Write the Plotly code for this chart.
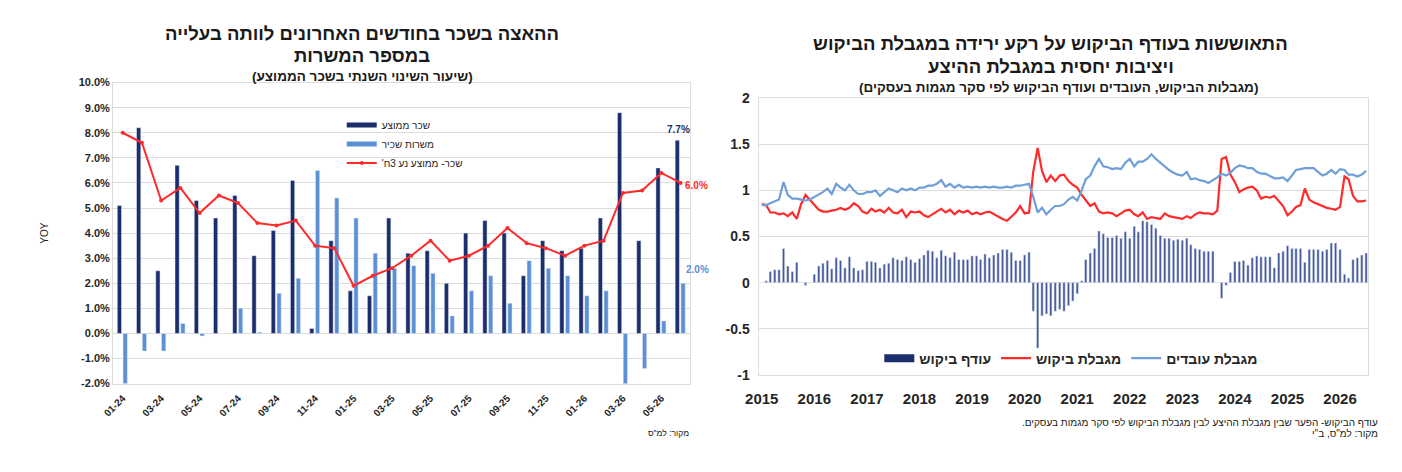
import pandas as pd
import plotly.graph_objects as go

# ---- left panel: wages vs. salaried jobs, YoY % ----
months = ['01-24', '02-24', '03-24', '04-24', '05-24', '06-24', '07-24', '08-24', '09-24', '10-24',
          '11-24', '12-24', '01-25', '02-25', '03-25', '04-25', '05-25', '06-25', '07-25', '08-25',
          '09-25', '10-25', '11-25', '12-25', '01-26', '02-26', '03-26', '04-26', '05-26', '06-26']
avg_wage = [5.1, 8.2, 2.5, 6.7, 5.3, 4.6, 5.5, 3.1, 4.1, 6.1, 0.2, 3.7, 1.7, 1.5, 4.6,
            3.2, 3.3, 2.0, 4.0, 4.5, 4.0, 2.3, 3.7, 3.3, 3.4, 4.6, 8.8, 3.7, 6.6, 7.7]
jobs = [-2.0, -0.7, -0.7, 0.4, -0.1, 0.0, 1.0, 0.05, 1.6, 2.2, 6.5, 5.4, 4.6, 3.2, 2.6,
        2.7, 2.4, 0.7, 1.7, 2.3, 1.2, 2.9, 2.6, 2.3, 1.5, 1.7, -2.0, -1.4, 0.5, 2.0]
wage_ma3 = [8.0, 7.6, 5.3, 5.8, 4.8, 5.5, 5.2, 4.4, 4.3, 4.5, 3.5, 3.4, 1.9, 2.3, 2.6,
            3.1, 3.7, 2.9, 3.1, 3.5, 4.2, 3.6, 3.4, 3.1, 3.5, 3.7, 5.6, 5.7, 6.4, 6.0]
left_ticks = [-2, -1, 0, 1, 2, 3, 4, 5, 6, 7, 8, 9, 10]
left_ticktext = ['-2.0%', '-1.0%', '0.0%', '1.0%', '2.0%', '3.0%', '4.0%', '5.0%',
                 '6.0%', '7.0%', '8.0%', '9.0%', '10.0%']

# ---- right panel: business tendency survey, monthly from 01-2015 ----
dates = pd.date_range('2015-01-01', periods=139, freq='MS')
labor_limit = [0.84, 0.84, 0.86, 0.88, 0.90, 1.09, 0.95, 0.91, 0.91, 0.90,
               0.89, 0.90, 0.93, 0.96, 0.98, 1.02, 0.96, 1.07, 1.03, 1.00,
               1.06, 1.00, 0.96, 0.96, 0.98, 0.98, 1.00, 0.94, 0.98, 1.02,
               1.00, 0.98, 1.02, 1.00, 1.02, 1.00, 1.03, 1.03, 1.05, 1.05,
               1.07, 1.11, 1.04, 1.07, 1.03, 1.06, 1.03, 1.04, 1.03, 1.04,
               1.03, 1.04, 1.03, 1.04, 1.03, 1.03, 1.04, 1.03, 1.05, 1.05,
               1.06, 1.07, 0.93, 0.76, 0.81, 0.74, 0.79, 0.83, 0.83, 0.85,
               0.90, 0.93, 0.89, 1.00, 1.12, 1.16, 1.26, 1.34, 1.26, 1.25,
               1.23, 1.24, 1.23, 1.30, 1.34, 1.26, 1.31, 1.31, 1.34, 1.39,
               1.34, 1.30, 1.25, 1.22, 1.19, 1.17, 1.16, 1.20, 1.12, 1.13,
               1.11, 1.10, 1.08, 1.11, 1.14, 1.18, 1.16, 1.19, 1.24, 1.27,
               1.26, 1.24, 1.24, 1.20, 1.18, 1.18, 1.15, 1.13, 1.13, 1.14,
               1.10, 1.16, 1.22, 1.23, 1.24, 1.24, 1.24, 1.20, 1.16, 1.18,
               1.22, 1.18, 1.23, 1.22, 1.17, 1.17, 1.15, 1.17, 1.21]
demand_limit = [0.85, 0.84, 0.76, 0.76, 0.74, 0.75, 0.72, 0.76, 0.69, 0.85,
                0.95, 0.90, 0.84, 0.79, 0.77, 0.77, 0.78, 0.79, 0.81, 0.79,
                0.81, 0.86, 0.83, 0.77, 0.75, 0.80, 0.77, 0.79, 0.76, 0.81,
                0.76, 0.75, 0.79, 0.71, 0.77, 0.76, 0.77, 0.73, 0.71, 0.74,
                0.77, 0.80, 0.76, 0.79, 0.74, 0.78, 0.76, 0.78, 0.74, 0.76,
                0.74, 0.76, 0.77, 0.74, 0.72, 0.69, 0.67, 0.71, 0.76, 0.83,
                0.75, 0.76, 1.20, 1.46, 1.21, 1.09, 1.16, 1.10, 1.16, 1.17,
                1.10, 1.06, 1.03, 0.95, 0.89, 0.83, 0.86, 0.77, 0.75, 0.76,
                0.75, 0.72, 0.75, 0.78, 0.79, 0.74, 0.72, 0.76, 0.69, 0.71,
                0.70, 0.69, 0.75, 0.72, 0.71, 0.70, 0.69, 0.72, 0.70, 0.74,
                0.76, 0.75, 0.75, 0.74, 0.78, 1.34, 1.36, 1.17, 1.09, 0.98,
                1.01, 1.03, 1.04, 1.00, 0.91, 0.93, 0.92, 0.94, 0.88, 0.83,
                0.73, 0.77, 0.82, 0.84, 1.02, 0.90, 0.87, 0.85, 0.83, 0.81,
                0.80, 0.79, 0.82, 1.15, 1.12, 0.94, 0.88, 0.88, 0.89]
excess_demand = [0.00, 0.02, 0.12, 0.14, 0.14, 0.37, 0.18, 0.12, 0.22, 0.00,
                 -0.03, 0.00, 0.09, 0.18, 0.21, 0.24, 0.15, 0.27, 0.24, 0.16,
                 0.28, 0.16, 0.13, 0.14, 0.23, 0.23, 0.22, 0.16, 0.20, 0.21,
                 0.27, 0.25, 0.24, 0.28, 0.25, 0.22, 0.26, 0.30, 0.35, 0.34,
                 0.27, 0.35, 0.29, 0.27, 0.33, 0.25, 0.25, 0.25, 0.29, 0.29,
                 0.25, 0.31, 0.27, 0.30, 0.32, 0.36, 0.36, 0.33, 0.24, 0.24,
                 0.30, 0.33, -0.31, -0.71, -0.36, -0.34, -0.36, -0.31, -0.29, -0.31,
                 -0.25, -0.20, -0.12, 0.02, 0.25, 0.32, 0.37, 0.56, 0.53, 0.49,
                 0.49, 0.51, 0.48, 0.55, 0.48, 0.61, 0.55, 0.67, 0.66, 0.63,
                 0.59, 0.51, 0.48, 0.48, 0.46, 0.47, 0.46, 0.48, 0.41, 0.37,
                 0.36, 0.34, 0.34, 0.34, 0.00, -0.17, -0.03, 0.11, 0.23, 0.23,
                 0.24, 0.19, 0.27, 0.29, 0.28, 0.28, 0.28, 0.16, 0.32, 0.34,
                 0.40, 0.37, 0.37, 0.37, 0.22, 0.36, 0.36, 0.36, 0.34, 0.36,
                 0.43, 0.43, 0.36, 0.09, 0.05, 0.25, 0.27, 0.30, 0.32]
right_ticks = [-1, -0.5, 0, 0.5, 1, 1.5, 2]
right_ticktext = ['-1', '-0.5', '0', '0.5', '1', '1.5', '2']

NAVY = '#1c2d6b'
LIGHT = '#5b8fd6'
RED = '#ff2a2a'
BLUE = '#6e9fd8'
BARS = '#45579a'
GRID = '#dcdcdc'
TXT = '#262626'
FONT = 'Arial, Liberation Sans, sans-serif'
# the page body keeps its default 8px margin, so the figure is drawn 16px smaller
PAD = 8
W, H = 1402 - 2 * PAD, 472 - 2 * PAD


def px(x):
    return (x - PAD) / W


def py(y):
    return 1 - (y - PAD) / H


def rtl(s):
    return '\u202b' + s + '\u202c'


def swatch(name, color, thick, xa, ya, leg):
    # legend-only entry so the key shows a flat bar like the original
    return go.Scatter(x=[None], y=[None], name=name, mode='lines',
                      line=dict(color=color, width=thick), xaxis=xa, yaxis=ya,
                      legend=leg, hoverinfo='skip')


fig = go.Figure()

fig.add_trace(go.Bar(x=months, y=avg_wage, name='שכר ממוצע', marker_color=NAVY,
                     width=0.22, offset=-0.28, xaxis='x', yaxis='y', showlegend=False))
fig.add_trace(go.Bar(x=months, y=jobs, name='משרות שכיר', marker_color=LIGHT,
                     width=0.22, offset=0.02, xaxis='x', yaxis='y', showlegend=False))
fig.add_trace(swatch('שכר ממוצע', NAVY, 5, 'x', 'y', 'legend'))
fig.add_trace(swatch('משרות שכיר', LIGHT, 5, 'x', 'y', 'legend'))
fig.add_trace(go.Scatter(x=months, y=wage_ma3, name=rtl("שכר- ממוצע נע 3ח'"), mode='lines+markers',
                         line=dict(color=RED, width=2), marker=dict(size=4, color=RED),
                         xaxis='x', yaxis='y', legend='legend'))

bar_ms = 16 * 24 * 3600 * 1000
fig.add_trace(go.Bar(x=dates, y=excess_demand, name='עודף ביקוש', marker_color=BARS,
                     width=bar_ms, xaxis='x2', yaxis='y2', showlegend=False))
fig.add_trace(swatch('עודף ביקוש', NAVY, 8, 'x2', 'y2', 'legend2'))
fig.add_trace(go.Scatter(x=dates, y=demand_limit, name='מגבלת ביקוש', mode='lines',
                         line=dict(color=RED, width=2.2), xaxis='x2', yaxis='y2', legend='legend2'))
fig.add_trace(go.Scatter(x=dates, y=labor_limit, name='מגבלת עובדים', mode='lines',
                         line=dict(color=BLUE, width=2.2), xaxis='x2', yaxis='y2', legend='legend2'))

axis_common = dict(showline=True, mirror=True, linecolor=GRID, linewidth=1, ticks='',
                   zeroline=False)

fig.update_layout(
    width=W, height=H,
    margin=dict(l=0, r=0, t=0, b=0),
    paper_bgcolor='white', plot_bgcolor='white',
    font=dict(family=FONT, color=TXT),
    xaxis=dict(domain=[px(100), px(683)], type='category', range=[-0.5, len(months) - 0.5],
               tickangle=-45, tickmode='array', tickvals=months[::2], showgrid=False,
               ticklabelstandoff=4,
               tickfont=dict(size=10, color=TXT, weight='bold'), **axis_common),
    yaxis=dict(domain=[py(389), py(77)], range=[-2, 10], tickvals=left_ticks,
               ticktext=left_ticktext, showgrid=True, gridcolor=GRID,
               tickfont=dict(size=11, color=TXT, weight='bold'),
               title=dict(text='YOY', font=dict(size=10, color=TXT), standoff=28),
               **axis_common),
    xaxis2=dict(domain=[px(753), px(1368)], type='date', anchor='y2',
                range=['2014-12-16', '2026-07-16'], tick0='2015-01-01', dtick='M12',
                tickformat='%Y', showgrid=False, ticklabelstandoff=10,
                tickfont=dict(size=15, color=TXT, weight='bold'), **axis_common),
    yaxis2=dict(domain=[py(380), py(93)], anchor='x2', range=[-1, 2],
                tickvals=right_ticks, ticktext=right_ticktext,
                showgrid=True, gridcolor=GRID, ticklabelstandoff=6,
                tickfont=dict(size=14, color=TXT, weight='bold'), **axis_common),
    legend=dict(x=px(331), y=py(106), xanchor='left', yanchor='top',
                bgcolor='rgba(0,0,0,0)', font=dict(size=10, color=TXT),
                tracegroupgap=3),
    legend2=dict(orientation='h', x=px(1068), y=py(363), xanchor='center', yanchor='middle',
                 bgcolor='rgba(0,0,0,0)', font=dict(size=14, color=TXT, weight='bold')),
    showlegend=True,
)

annotations = [
    # left titles
    dict(text='ההאצה בשכר בחודשים האחרונים לוותה בעלייה', x=px(351), y=py(26),
         font=dict(size=18.5, weight='bold')),
    dict(text='במספר המשרות', x=px(351), y=py(49), font=dict(size=18.5, weight='bold')),
    dict(text='(שיעור השינוי השנתי בשכר הממוצע)', x=px(352), y=py(71),
         font=dict(size=13.5, weight='bold')),
    # right titles
    dict(text='התאוששות בעודף הביקוש על רקע ירידה במגבלת הביקוש', x=px(1047), y=py(37),
         font=dict(size=18.5, weight='bold')),
    dict(text='ויציבות יחסית במגבלת ההיצע', x=px(1047), y=py(60),
         font=dict(size=18.5, weight='bold')),
    dict(text='(מגבלות הביקוש, העובדים ועודף הביקוש לפי סקר מגמות בעסקים)', x=px(1055), y=py(82),
         font=dict(size=13.5, weight='bold')),
    # sources
    dict(text=rtl('מקור: למ"ס'), x=px(684), y=py(440), xanchor='right', font=dict(size=8.5)),
    dict(text=rtl('עודף הביקוש- הפער שבין מגבלת ההיצע לבין מגבלת הביקוש לפי סקר מגמות בעסקים.'),
         x=px(1380), y=py(429), xanchor='right', font=dict(size=10)),
    dict(text=rtl('מקור: למ"ס, ב"י'), x=px(1380), y=py(441), xanchor='right', font=dict(size=10)),
]
for a in annotations:
    a.setdefault('xref', 'paper')
    a.setdefault('yref', 'paper')
    a.setdefault('showarrow', False)
    a.setdefault('xanchor', 'center')
    a.setdefault('yanchor', 'middle')
    a['font'].setdefault('color', '#1a1a1a')
    a['font'].setdefault('family', FONT)
    fig.add_annotation(**a)

# end-point value labels on the left panel
last = months[-1]
fig.add_annotation(x=last, y=avg_wage[-1], xref='x', yref='y', text=f'{avg_wage[-1]:.1f}%',
                   showarrow=False, yanchor='bottom', xshift=-2, yshift=3,
                   font=dict(size=10, color=NAVY, weight='bold'))
fig.add_annotation(x=last, y=wage_ma3[-1], xref='x', yref='y', text=f'{wage_ma3[-1]:.1f}%',
                   showarrow=False, xanchor='left', xshift=2, yshift=-3,
                   font=dict(size=10, color=RED, weight='bold'))
fig.add_annotation(x=last, y=jobs[-1], xref='x', yref='y', text=f'{jobs[-1]:.1f}%',
                   showarrow=False, xanchor='left', yanchor='bottom', xshift=3, yshift=6,
                   font=dict(size=10, color=LIGHT, weight='bold'))

fig.write_html('out.html')
